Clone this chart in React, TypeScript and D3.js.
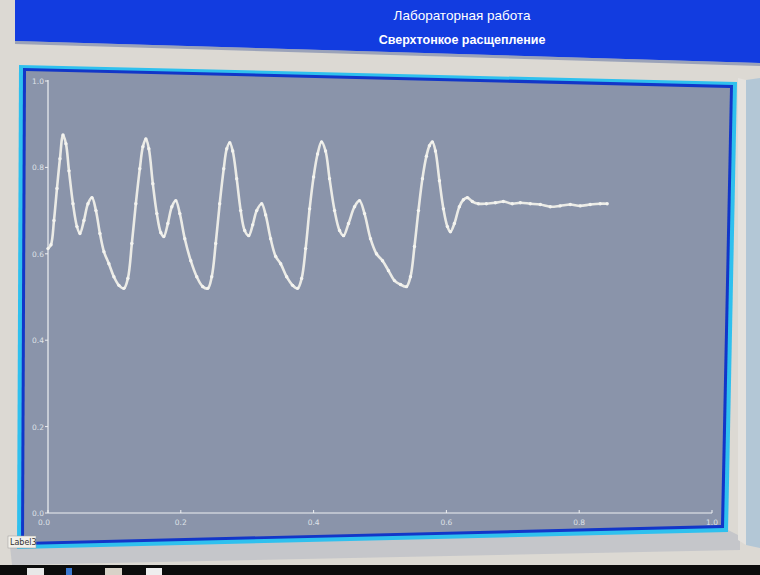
import React from "react";
import * as d3 from "d3";

const titleLine1 = "Лабораторная работа";
const titleLine2 = "Сверхтонкое расщепление";
const xTickValues = [0, 0.2, 0.4, 0.6, 0.8, 1.0];
const yTickValues = [0, 0.2, 0.4, 0.6, 0.8, 1.0];

const seriesX = [
  0, 0.0045, 0.009, 0.0135, 0.018, 0.0226, 0.027, 0.0316, 0.0376, 0.0436, 0.0481, 0.0541, 0.0602, 0.0662, 0.0722, 0.0782,
  0.0842, 0.0917, 0.0992, 0.1068, 0.1143, 0.1203, 0.1263, 0.1323, 0.1383, 0.1429, 0.1474, 0.1519, 0.1579, 0.1639, 0.1699,
  0.1744, 0.1805, 0.1865, 0.1925, 0.1985, 0.206, 0.215, 0.224, 0.233, 0.2406, 0.2466, 0.2526, 0.2586, 0.2647, 0.2692,
  0.2737, 0.2782, 0.2842, 0.2902, 0.2962, 0.3023, 0.3083, 0.3143, 0.3218, 0.3278, 0.3353, 0.3429, 0.3504, 0.3594, 0.3684,
  0.3759, 0.382, 0.388, 0.394, 0.4, 0.406, 0.412, 0.418, 0.424, 0.4316, 0.4391, 0.4451, 0.4526, 0.4617, 0.4692, 0.4767,
  0.4857, 0.4947, 0.5038, 0.5128, 0.5218, 0.5308, 0.5398, 0.5459, 0.5519, 0.5579, 0.5639, 0.5699, 0.5744, 0.5789, 0.5835,
  0.5895, 0.5955, 0.6015, 0.606, 0.612, 0.6195, 0.6256, 0.6316, 0.6391, 0.6481, 0.6602, 0.6737, 0.6857, 0.6992, 0.7113,
  0.7263, 0.7414, 0.7564, 0.7714, 0.7865, 0.8015, 0.8165, 0.8316, 0.8421,
];
const seriesY = [
  0.612, 0.621, 0.677, 0.751, 0.82, 0.875, 0.855, 0.792, 0.716, 0.663, 0.647, 0.677, 0.716, 0.73, 0.7, 0.647,
  0.605, 0.577, 0.547, 0.527, 0.52, 0.543, 0.624, 0.716, 0.797, 0.848, 0.866, 0.843, 0.762, 0.693, 0.649,
  0.64, 0.67, 0.709, 0.723, 0.693, 0.635, 0.584, 0.547, 0.524, 0.52, 0.547, 0.624, 0.716, 0.797, 0.843,
  0.857, 0.838, 0.774, 0.7, 0.654, 0.642, 0.667, 0.7, 0.716, 0.69, 0.635, 0.594, 0.577, 0.547, 0.527,
  0.52, 0.543, 0.612, 0.704, 0.778, 0.831, 0.859, 0.838, 0.774, 0.7, 0.654, 0.642, 0.67, 0.709, 0.723, 0.693,
  0.635, 0.6, 0.584, 0.561, 0.538, 0.529, 0.524, 0.547, 0.617, 0.7, 0.774, 0.826, 0.85, 0.859, 0.838,
  0.769, 0.704, 0.663, 0.651, 0.67, 0.709, 0.725, 0.73, 0.721, 0.716, 0.716, 0.718, 0.721, 0.716, 0.718,
  0.716, 0.714, 0.709, 0.711, 0.714, 0.711, 0.714, 0.716, 0.716,
];

export default function App() {
  const W = 760;
  const H = 575;
  const x = d3.scaleLinear().domain([0, 1]).range([48, 712]);
  const y = d3.scaleLinear().domain([0, 1]).range([513, 81]);
  const pts = seriesX.map((v, i) => [v, seriesY[i]] as [number, number]);
  const line = d3
    .line<[number, number]>()
    .x((d) => x(d[0]))
    .y((d) => y(d[1]))
    .curve(d3.curveCatmullRom.alpha(0.5));
  const labelColor = "#dfe2e8";
  const font = "'DejaVu Sans', Verdana, sans-serif";
  const titleFont = "'Liberation Sans', Arial, sans-serif";

  return (
    <svg width={W} height={H} style={{ position: "absolute", left: 0, top: 0, display: "block" }}>
      {/* page background */}
      <rect x={0} y={0} width={W} height={H} fill="#dcd9d3" />
      {/* header band */}
      <polygon points="15,0 760,0 760,63 15,41" fill="#123ce0" />
      <polygon points="15,41 760,63 760,66 15,44" fill="#6f7fa8" opacity={0.6} />
      <text x={462} y={20} textAnchor="middle" fill="#ffffff" fontFamily={titleFont} fontSize={13.5}>
        {titleLine1}
      </text>
      <text x={462} y={44} textAnchor="middle" fill="#ffffff" fontFamily={titleFont} fontSize={12.5} fontWeight="bold">
        {titleLine2}
      </text>
      {/* lower grey strip */}
      <polygon points="10,546 728,530 740,536 740,550 12,565" fill="#c5c6ca" />
      {/* right side panel */}
      <polygon points="746,80 760,78 760,548 746,545" fill="#b3c7d6" />
      <polygon points="738,78 746,80 746,545 738,540" fill="#e4e2de" />
      {/* panel outer cyan */}
      <polygon points="19,65 737,82 728,532 17,549" fill="#2fc0ee" />
      {/* panel dark blue */}
      <polygon points="23,68 733,85 724,528 21,545" fill="#1236c8" />
      {/* plot fill */}
      <polygon points="26,71 730,88 721,525 24,542" fill="#8a94aa" />

      {/* axes */}
      <line x1={x(0)} x2={x(0)} y1={y(1) - 1} y2={y(0)} stroke="#eef0f2" strokeWidth={1.2} />
      <line x1={x(0)} x2={x(1)} y1={y(0)} y2={y(0)} stroke="#eef0f2" strokeWidth={1.2} />
      {yTickValues.map((t) => (
        <g key={"y" + t}>
          <line x1={x(0) - 3} x2={x(0)} y1={y(t)} y2={y(t)} stroke="#eef0f2" strokeWidth={1} />
          <text x={x(0) - 4} y={y(t) + 3} textAnchor="end" fill={labelColor} fontFamily={font} fontSize={7.5}>
            {t.toFixed(1)}
          </text>
        </g>
      ))}
      {xTickValues.map((t) => (
        <g key={"x" + t}>
          <line x1={x(t)} x2={x(t)} y1={y(0) - 3} y2={y(0)} stroke="#eef0f2" strokeWidth={1} />
          <text x={x(t) - (t === 0 ? 4 : 0)} y={y(0) + 12} textAnchor="middle" fill={labelColor} fontFamily={font} fontSize={7.5}>
            {t.toFixed(1)}
          </text>
        </g>
      ))}

      {/* series */}
      <path d={line(pts) || ""} fill="none" stroke="#ebebe6" strokeWidth={2.6} strokeLinejoin="round" />
      {pts.map((p, i) => (
        <circle key={i} cx={x(p[0])} cy={y(p[1])} r={1.7} fill="#f4f4f0" />
      ))}

      {/* Label3 */}
      <rect x={8} y={536} width={28} height={12} fill="#f2f0ea" stroke="#9a9a9a" strokeWidth={0.5} />
      <text x={10} y={545} fill="#333" fontFamily={font} fontSize={8}>
        Label3
      </text>

      {/* bottom taskbar */}
      <rect x={0} y={565} width={W} height={10} fill="#0c0c0c" />
      <rect x={27} y={568} width={17} height={7} fill="#e8e8e8" />
      <rect x={66} y={568} width={6} height={7} fill="#3a78d0" />
      <rect x={105} y={568} width={17} height={7} fill="#d8d2c8" />
      <rect x={146} y={568} width={16} height={7} fill="#eeeeee" />
    </svg>
  );
}
